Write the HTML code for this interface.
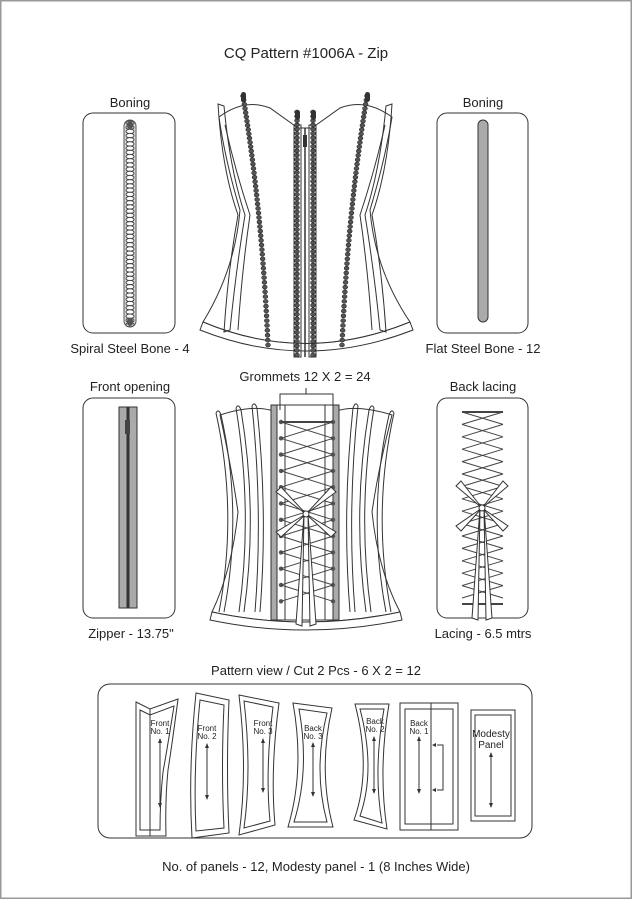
<!DOCTYPE html>
<html><head><meta charset="utf-8"><style>
html,body{margin:0;padding:0;background:#fff}
svg{display:block}
text{font-family:"Liberation Sans",Arial,sans-serif;fill:#222}
</style></head><body>
<svg id="s" width="632" height="899" viewBox="0 0 632 899" xmlns="http://www.w3.org/2000/svg">
<rect x="0.5" y="0.5" width="631" height="898" fill="#fff" stroke="#999" stroke-width="2"/>
<text x="306" y="58" font-size="15" text-anchor="middle">CQ Pattern #1006A - Zip</text>
<text x="130" y="107" font-size="13" text-anchor="middle">Boning</text>
<text x="483" y="107" font-size="13" text-anchor="middle">Boning</text>
<text x="130" y="353" font-size="13" text-anchor="middle">Spiral Steel Bone - 4</text>
<text x="483" y="353" font-size="13" text-anchor="middle">Flat Steel Bone - 12</text>
<text x="130" y="391" font-size="13" text-anchor="middle">Front opening</text>
<text x="305" y="381" font-size="13" text-anchor="middle">Grommets 12 X 2 = 24</text>
<text x="483" y="391" font-size="13" text-anchor="middle">Back lacing</text>
<text x="131" y="638" font-size="13" text-anchor="middle">Zipper - 13.75"</text>
<text x="483" y="638" font-size="13" text-anchor="middle">Lacing  - 6.5 mtrs</text>
<text x="316" y="675" font-size="13" text-anchor="middle">Pattern view / Cut 2 Pcs - 6 X 2 = 12</text>
<text x="316" y="871" font-size="13" text-anchor="middle">No. of panels - 12, Modesty panel - 1 (8 Inches Wide)</text>

<g fill="none" stroke="#333" stroke-width="1">
<rect x="83" y="113" width="92" height="220" rx="10"/>
<rect x="437" y="113" width="91" height="220" rx="10"/>
<rect x="83" y="398" width="92" height="220" rx="10"/>
<rect x="437" y="398" width="91" height="220" rx="10"/>
<rect x="98" y="684" width="434" height="154" rx="12"/>
</g>
<rect x="478" y="120" width="10" height="202" rx="5" fill="#aaa" stroke="#333"/>
<rect x="124" y="120" width="12" height="207" rx="6" fill="#ddd" stroke="#555"/>
<g id="spiral"></g>
<rect x="119" y="407" width="18" height="201" fill="#aaa" stroke="#333"/>
<line x1="128" y1="407" x2="128" y2="608" stroke="#333" stroke-width="3"/>
<rect x="125" y="420" width="5" height="14" fill="#444"/>

<g fill="none" stroke="#333" stroke-width="1">
<path d="M219,117 Q245,98 270,108 L298,128 L312,128 L340,108 Q366,98 392,117 Q385,160 370,210 Q375,270 410,322 Q305,365 203,322 Q235,270 240,210 Q225,160 219,117Z" fill="#fff"/>
<path d="M203,322 Q305,365 410,322 L413,330 Q305,372 200,330Z" fill="#fff"/>
<path d="M218,104 L224,106 Q230,170 245,215 Q236,270 230,330 L224,332 Q228,270 238,215 Q222,170 218,104Z"/>
<path d="M392,104 L386,106 Q380,170 365,215 Q374,270 380,330 L386,332 Q382,270 372,215 Q388,170 392,104Z"/>
<path d="M225,125 Q235,170 250,215 Q242,270 238,330"/>
<path d="M385,125 Q375,170 360,215 Q368,270 372,330"/>
<rect x="294" y="125" width="7" height="232"/>
<rect x="309" y="125" width="7" height="232"/>
</g>
<g id="c1"></g>

<g fill="none" stroke="#333" stroke-width="1">
<path d="M220,415 Q250,405 270,410 L340,410 Q360,405 392,415 Q378,470 372,512 Q378,570 400,612 Q305,632 212,612 Q232,570 238,512 Q232,470 220,415Z" fill="#fff"/>
<path d="M212,612 Q305,632 400,612 L402,620 Q305,640 210,620Z" fill="#fff"/>
</g>
<g id="c2"></g>
<g id="lace"></g>
<g fill="none" stroke="#333" stroke-width="1">
<path d="M136,702 L150,709 L178,699 Q172,745 168,770 Q165,800 166,836 L136,836Z"/>
<path d="M140,710 L150,715 L174,706 Q167,750 163,772 Q160,800 160,830 L140,830Z"/>
<line x1="150" y1="709" x2="150" y2="836"/>
<path d="M196,693 L229,700 Q226,770 229,833 L192,838 Q188,770 196,693Z"/>
<path d="M200,700 L224,705 Q221,770 224,828 L196,831 Q193,770 200,700Z"/>
<path d="M239,695 L279,703 Q270,770 275,825 L239,835 Q248,770 239,695Z"/>
<path d="M244,701 L273,707 Q265,770 270,821 L244,828 Q252,770 244,701Z"/>
<path d="M293,703 L332,708 Q318,770 333,827 L288,827 Q305,770 293,703Z"/>
<path d="M299,709 L327,713 Q313,770 327,822 L294,822 Q310,770 299,709Z"/>
<path d="M355,704 L389,704 Q378,770 387,829 L354,820 Q372,770 355,704Z"/>
<path d="M360,709 L384,709 Q373,770 382,823 L360,816 Q376,770 360,709Z"/>
<rect x="400" y="703" width="58" height="127"/>
<rect x="405" y="709" width="48" height="115"/>
<line x1="431" y1="703" x2="431" y2="830"/>
<rect x="471" y="710" width="44" height="111"/>
<rect x="475" y="715" width="36" height="101"/>
</g>
<g font-size="8" text-anchor="middle" fill="#333">
<text x="160" y="726">Front</text><text x="160" y="734">No. 1</text>
<text x="207" y="731">Front</text><text x="207" y="739">No. 2</text>
<text x="263" y="726">Front</text><text x="263" y="734">No. 3</text>
<text x="313" y="731">Back</text><text x="313" y="739">No. 3</text>
<text x="375" y="724">Back</text><text x="375" y="732">No. 2</text>
<text x="419" y="726">Back</text><text x="419" y="734">No. 1</text>
<text x="491" y="737" font-size="10">Modesty</text><text x="491" y="748" font-size="10">Panel</text>
</g>
<g id="arr"></g>
</svg>
<script>
var NS="http://www.w3.org/2000/svg";
function el(p,t,a){var e=document.createElementNS(NS,t);for(var k in a)e.setAttribute(k,a[k]);document.getElementById(p).appendChild(e);return e;}
for(var y=123;y<325;y+=4.2){el("spiral","ellipse",{cx:130,cy:y,rx:4,ry:2.2,fill:"#fff",stroke:"#444","stroke-width":1});}
el("spiral","rect",{x:127,y:121,width:6,height:8,rx:3,fill:"#555"});
el("spiral","rect",{x:127,y:318,width:6,height:8,rx:3,fill:"#555"});
function chain(pts){var n=55;for(var i=0;i<=n;i++){var t=i/n;var x=(1-t)*(1-t)*pts[0][0]+2*(1-t)*t*pts[1][0]+t*t*pts[2][0];var y=(1-t)*(1-t)*pts[0][1]+2*(1-t)*t*pts[1][1]+t*t*pts[2][1];el("c1","ellipse",{cx:x,cy:y,rx:2.4,ry:2,fill:"#555",stroke:"#222","stroke-width":0.6});}}
chain([[243,96],[262,210],[268,345]]);
chain([[367,96],[348,210],[342,345]]);
chain([[297,112],[297,230],[297,355]]);
chain([[313,112],[313,230],[313,355]]);
el("c1","rect",{x:241,y:92,width:5,height:10,rx:2.5,fill:"#333"});
el("c1","rect",{x:365,y:92,width:5,height:10,rx:2.5,fill:"#333"});
el("c1","rect",{x:295,y:110,width:5,height:10,rx:2.5,fill:"#333"});
el("c1","rect",{x:311,y:110,width:5,height:10,rx:2.5,fill:"#333"});
el("c1","line",{x1:305,y1:128,x2:305,y2:357,stroke:"#333","stroke-width":1.5});
el("c1","rect",{x:303,y:135,width:4,height:12,fill:"#333"});
function bone(x1,yt,xm,yb,s){var d="M"+x1+","+yt+" Q"+xm+",512 "+(x1+s*3)+","+yb;el("c2","path",{d:d,fill:"none",stroke:"#333"});el("c2","path",{d:"M"+(x1+s*5)+","+(yt+2)+" Q"+(xm+s*5)+",512 "+(x1+s*8)+","+yb,fill:"none",stroke:"#333"});el("c2","path",{d:"M"+x1+","+yt+" Q"+(x1+s*2.5)+","+(yt-5)+" "+(x1+s*5)+","+(yt+2),fill:"none",stroke:"#333"});}
bone(216,413,238,612,1);bone(236,408,253,612,1);bone(252,406,263,612,1);
bone(394,413,372,612,-1);bone(374,408,357,612,-1);bone(358,406,347,612,-1);
el("c2","rect",{x:271,y:405,width:6,height:215,fill:"#aaa",stroke:"#333"});
el("c2","rect",{x:333,y:405,width:6,height:215,fill:"#aaa",stroke:"#333"});
el("c2","rect",{x:277,y:405,width:56,height:215,fill:"#fff",stroke:"#333"});
el("c2","line",{x1:285,y1:405,x2:285,y2:620,stroke:"#333"});
el("c2","line",{x1:325,y1:405,x2:325,y2:620,stroke:"#333"});
el("c2","path",{d:"M280,410 L280,394 L333,394 L333,410 M306,394 L306,388",fill:"none",stroke:"#333"});
var gy=[];for(var i=0;i<12;i++)gy.push(422+i*16.3);
for(var i=0;i<12;i++){el("c2","circle",{cx:281,cy:gy[i],r:2.2,fill:"#555"});el("c2","circle",{cx:333,cy:gy[i],r:2.2,fill:"#555"});}
for(var i=0;i<11;i++){el("c2","line",{x1:281,y1:gy[i],x2:333,y2:gy[i+1],stroke:"#444"});el("c2","line",{x1:333,y1:gy[i],x2:281,y2:gy[i+1],stroke:"#444"});}
el("c2","line",{x1:281,y1:422,x2:333,y2:422,stroke:"#444","stroke-width":2});
function bow(g,cx,cy,w){el(g,"path",{d:"M"+cx+","+cy+" L"+(cx-w)+","+(cy-22)+" L"+(cx-w+5)+","+(cy-27)+"Z M"+cx+","+cy+" L"+(cx+w)+","+(cy-22)+" L"+(cx+w-5)+","+(cy-27)+"Z M"+cx+","+cy+" L"+(cx-w)+","+(cy+18)+" L"+(cx-w+5)+","+(cy+23)+"Z M"+cx+","+cy+" L"+(cx+w)+","+(cy+18)+" L"+(cx+w-5)+","+(cy+23)+"Z M"+(cx-2)+","+cy+" L"+(cx-10)+","+(cy+110)+" L"+(cx-4)+","+(cy+112)+"Z M"+(cx+2)+","+cy+" L"+(cx+10)+","+(cy+110)+" L"+(cx+4)+","+(cy+112)+"Z",fill:"#fff",stroke:"#333"});el(g,"circle",{cx:cx,cy:cy,r:3,fill:"#fff",stroke:"#333"});}
bow("c2",306,514,30);
var ly=[];for(var i=0;i<16;i++)ly.push(412+i*12.4);
for(var i=0;i<15;i++){el("lace","line",{x1:462,y1:ly[i],x2:503,y2:ly[i+1],stroke:"#444"});el("lace","line",{x1:503,y1:ly[i],x2:462,y2:ly[i+1],stroke:"#444"});}
el("lace","line",{x1:462,y1:412,x2:503,y2:412,stroke:"#444","stroke-width":2});
el("lace","line",{x1:462,y1:604,x2:503,y2:604,stroke:"#444","stroke-width":2});
bow("lace",482,508,26);
function arrow(x,y1,y2){el("arr","line",{x1:x,y1:y1+4,x2:x,y2:y2-4,stroke:"#333"});el("arr","path",{d:"M"+(x-2)+","+(y1+5)+" L"+x+","+y1+" L"+(x+2)+","+(y1+5)+"Z M"+(x-2)+","+(y2-5)+" L"+x+","+y2+" L"+(x+2)+","+(y2-5)+"Z",fill:"#333"});}
arrow(160,738,808);arrow(207,743,800);arrow(263,738,793);arrow(313,742,797);arrow(374,736,794);arrow(419,736,794);arrow(491,752,808);
el("arr","path",{d:"M437,745 L443,745 L443,790 L437,790",fill:"none",stroke:"#333"});
el("arr","path",{d:"M436,743 L436,747 L432,745Z M436,788 L436,792 L432,790Z",fill:"#333"});
</script>
</body></html>
